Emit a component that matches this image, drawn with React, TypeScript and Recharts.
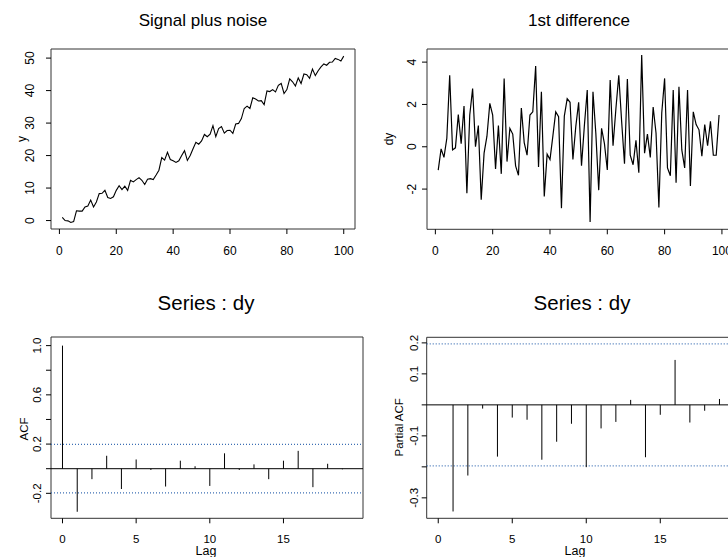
import React from "react";
import { LineChart, Line, XAxis, YAxis, ReferenceLine, ReferenceArea } from "recharts";

// signal plus noise, t = 1..100
const yValues = [
  1.0, 0.0, -0.1, -0.6, -0.3, 3.0, 2.9, 2.9, 4.2, 4.5,
  6.3, 4.2, 5.7, 8.3, 8.4, 9.3, 7.1, 6.8, 7.3, 9.3,
  10.7, 9.5, 10.6, 9.3, 12.4, 11.9, 12.6, 13.2, 12.4, 11.1,
  12.7, 12.9, 12.6, 14.0, 15.5, 19.4, 18.6, 21.0, 18.8, 18.4,
  17.9, 18.4, 20.0, 21.5, 18.5, 20.0, 22.1, 24.1, 23.5, 24.5,
  26.5, 25.8, 26.6, 29.2, 25.8, 28.3, 28.9, 26.9, 27.7, 27.8,
  26.8, 29.7, 29.9, 31.4, 34.5, 35.2, 34.5, 37.8, 37.4, 36.8,
  36.9, 35.7, 39.9, 39.7, 40.3, 39.6, 41.6, 42.2, 39.1, 40.3,
  43.6, 42.7, 41.4, 43.9, 42.2, 45.1, 44.9, 43.8, 46.6, 44.6,
  46.1, 47.3, 48.2, 47.8, 48.7, 48.8, 49.9, 49.6, 49.1, 50.6,
];

// 1st difference, t = 1..99
const dyValues = [
  -1.1, -0.1, -0.5, 0.4, 3.38, -0.15, -0.05, 1.52, 0.15, 1.92,
  -2.2, 1.5, 2.75, 0.0, 1.0, -2.5, -0.3, 0.5, 2.05, 1.5,
  -1.05, 1.0, -1.28, 3.22, -0.7, 0.87, 0.6, -0.9, -1.35, 1.83,
  0.2, -0.4, 1.5, 1.65, 3.82, -0.95, 2.6, -2.35, -0.35, -0.6,
  0.5, 1.65, 1.42, -2.9, 1.45, 2.27, 2.1, -0.6, 0.95, 2.1,
  -0.9, 1.0, 2.68, -3.55, 2.6, 0.63, -2.05, 0.87, 0.15, -1.1,
  3.15, 0.05, 1.8, 3.38, 1.2, -0.8, 3.2, -0.4, -0.85, 0.3,
  -1.23, 4.33, -0.3, 0.6, -0.5, 1.88, 0.65, -2.87, 1.6, 3.23,
  -1.0, -1.37, 2.68, -1.7, 2.83, -0.15, -1.0, 2.68, -1.85, 1.65,
  1.05, 0.8, -0.45, 1.05, 0.05, 1.2, -0.4, -0.4, 1.5,
];

const acfLags = [0, 1, 2, 3, 4, 5, 6, 7, 8, 9, 10, 11, 12, 13, 14, 15, 16, 17, 18, 19];
const acfValues = [
  1.0, -0.35, -0.085, 0.105, -0.165, 0.075, -0.01, -0.145, 0.065, 0.02,
  -0.14, 0.125, -0.01, 0.035, -0.085, 0.065, 0.145, -0.15, 0.04, -0.005,
];

const pacfLags = [1, 2, 3, 4, 5, 6, 7, 8, 9, 10, 11, 12, 13, 14, 15, 16, 17, 18, 19];
const pacfValues = [
  -0.344, -0.228, -0.012, -0.167, -0.041, -0.048, -0.177, -0.119, -0.061, -0.201,
  -0.076, -0.055, 0.016, -0.169, -0.032, 0.145, -0.057, -0.019, 0.019,
];

const confBound = 0.197;

const timeTicks = [0, 20, 40, 60, 80, 100];
const lagTicks = [0, 5, 10, 15];
const yTicks = [0, 10, 20, 30, 40, 50];
const dyTicks = [-2, 0, 2, 4];
const acfTicks = [-0.2, 0, 0.2, 0.4, 0.6, 0.8, 1.0];
const acfLabelled = [-0.2, 0.2, 0.6, 1.0];
const pacfTicks = [-0.3, -0.2, -0.1, 0, 0.1, 0.2];
const pacfLabelled = [-0.3, -0.1, 0.1, 0.2];

const FONT = '"Liberation Sans", Arial, Helvetica, sans-serif';
const CONF_COLOR = "#3d6fb4";

const ySeries = yValues.map((v, i) => ({ t: i + 1, y: v }));
const dySeries = dyValues.map((v, i) => ({ t: i + 1, dy: v }));

function xTick(labelY: number, size: number) {
  return (props: any) => (
    <text
      x={props.x}
      y={labelY}
      textAnchor="middle"
      dominantBaseline="central"
      fontSize={size}
      fontFamily={FONT}
      fill="#000"
    >
      {props.payload.value}
    </text>
  );
}

function yTick(labelX: number, size: number, fmt: (v: number) => string) {
  return (props: any) => (
    <text
      x={labelX}
      y={props.y}
      transform={`rotate(-90, ${labelX}, ${props.y})`}
      textAnchor="middle"
      dominantBaseline="central"
      fontSize={size}
      fontFamily={FONT}
      fill="#000"
    >
      {fmt(props.payload.value)}
    </text>
  );
}

const plain = (v: number) => String(v);
const oneDec = (labelled: number[]) => (v: number) =>
  labelled.some((l) => Math.abs(l - v) < 1e-9) ? v.toFixed(1) : "";

const box = "#333";

export default function App() {
  return (
    <div
      style={{
        position: "absolute",
        left: 0,
        top: 0,
        width: 728,
        height: 557,
        overflow: "hidden",
        background: "#fff",
      }}
    >
      {/* Signal plus noise */}
      <div style={{ position: "absolute", left: 0, top: 0 }}>
        <LineChart width={364} height={280} data={ySeries} margin={{ top: 49, right: 9, bottom: 21, left: 0 }}>
          <XAxis
            dataKey="t"
            type="number"
            domain={[-2.96, 103.96]}
            ticks={timeTicks}
            interval={0}
            allowDataOverflow
            axisLine={false}
            tickLine={{ stroke: "#000" }}
            tickSize={5}
            tickMargin={0}
            height={30}
            tick={xTick(250.5, 12)}
          />
          <YAxis
            type="number"
            domain={[-2.6, 52.8]}
            ticks={yTicks}
            interval={0}
            allowDataOverflow
            axisLine={false}
            tickLine={{ stroke: "#000" }}
            tickSize={5}
            tickMargin={0}
            width={51}
            tick={yTick(29.7, 12, plain)}
          />
          <ReferenceArea x1={-2.96} x2={103.96} y1={-2.6} y2={52.8} fill="none" stroke={box} ifOverflow="visible" />
          <Line dataKey="y" type="linear" stroke="#000" strokeWidth={1.1} dot={false} isAnimationActive={false} />
        </LineChart>
      </div>

      {/* 1st difference */}
      <div style={{ position: "absolute", left: 364, top: 0 }}>
        <LineChart width={370} height={280} data={dySeries} margin={{ top: 49, right: 3.7, bottom: 20.7, left: 0 }}>
          <XAxis
            dataKey="t"
            type="number"
            domain={[-2.92, 102.92]}
            ticks={timeTicks}
            interval={0}
            allowDataOverflow
            axisLine={false}
            tickLine={{ stroke: "#000" }}
            tickSize={5}
            tickMargin={0}
            height={30}
            tick={xTick(250.5, 12)}
          />
          <YAxis
            type="number"
            domain={[-3.9, 4.62]}
            ticks={dyTicks}
            interval={0}
            allowDataOverflow
            axisLine={false}
            tickLine={{ stroke: "#000" }}
            tickSize={5}
            tickMargin={0}
            width={63}
            tick={yTick(48, 12, plain)}
          />
          <ReferenceArea x1={-2.92} x2={102.92} y1={-3.9} y2={4.62} fill="none" stroke={box} ifOverflow="visible" />
          <Line dataKey="dy" type="linear" stroke="#000" strokeWidth={1.2} dot={false} isAnimationActive={false} />
        </LineChart>
      </div>

      {/* ACF */}
      <div style={{ position: "absolute", left: 0, top: 280 }}>
        <LineChart
          width={364}
          height={277}
          data={acfLags.map((l, i) => ({ lag: l, acf: acfValues[i] }))}
          margin={{ top: 57, right: 1, bottom: 8.7, left: 0 }}
        >
          <XAxis
            dataKey="lag"
            type="number"
            domain={[-0.78, 20.4]}
            ticks={lagTicks}
            interval={0}
            allowDataOverflow
            axisLine={false}
            tickLine={{ stroke: "#000" }}
            tickSize={5}
            tickMargin={0}
            height={30}
            tick={xTick(259.3, 11.5)}
          />
          <YAxis
            type="number"
            domain={[-0.403, 1.07]}
            ticks={acfTicks}
            interval={0}
            allowDataOverflow
            axisLine={false}
            tickLine={{ stroke: "#000" }}
            tickSize={5}
            tickMargin={0}
            width={51}
            tick={yTick(37.5, 11.5, oneDec(acfLabelled))}
          />
          <ReferenceArea x1={-0.78} x2={20.4} y1={-0.403} y2={1.07} fill="none" stroke={box} ifOverflow="visible" />
          <ReferenceLine y={0} stroke="#000" strokeWidth={1} />
          <ReferenceLine y={confBound} stroke={CONF_COLOR} strokeDasharray="1 2" strokeWidth={1.2} />
          <ReferenceLine y={-confBound} stroke={CONF_COLOR} strokeDasharray="1 2" strokeWidth={1.2} />
          {acfLags.map((l, i) => (
            <ReferenceLine
              key={l}
              segment={[
                { x: l, y: 0 },
                { x: l, y: acfValues[i] },
              ]}
              stroke="#000"
              strokeWidth={1}
            />
          ))}
          <Line dataKey="acf" stroke="none" dot={false} isAnimationActive={false} />
        </LineChart>
      </div>

      {/* PACF */}
      <div style={{ position: "absolute", left: 364, top: 280 }}>
        <LineChart
          width={380}
          height={277}
          data={pacfLags.map((l, i) => ({ lag: l, pacf: pacfValues[i] }))}
          margin={{ top: 57.3, right: 3.8, bottom: 8.7, left: 0 }}
        >
          <XAxis
            dataKey="lag"
            type="number"
            domain={[-0.78, 20.4]}
            ticks={lagTicks}
            interval={0}
            allowDataOverflow
            axisLine={false}
            tickLine={{ stroke: "#000" }}
            tickSize={5}
            tickMargin={0}
            height={30}
            tick={xTick(259.3, 11.5)}
          />
          <YAxis
            type="number"
            domain={[-0.366, 0.218]}
            ticks={pacfTicks}
            interval={0}
            allowDataOverflow
            axisLine={false}
            tickLine={{ stroke: "#000" }}
            tickSize={5}
            tickMargin={0}
            width={62.7}
            tick={yTick(49.7, 11.5, oneDec(pacfLabelled))}
          />
          <ReferenceArea x1={-0.78} x2={20.4} y1={-0.366} y2={0.218} fill="none" stroke={box} ifOverflow="visible" />
          <ReferenceLine y={0} stroke="#000" strokeWidth={1} />
          <ReferenceLine y={confBound} stroke={CONF_COLOR} strokeDasharray="1 2" strokeWidth={1.2} />
          <ReferenceLine y={-confBound} stroke={CONF_COLOR} strokeDasharray="1 2" strokeWidth={1.2} />
          {pacfLags.map((l, i) => (
            <ReferenceLine
              key={l}
              segment={[
                { x: l, y: 0 },
                { x: l, y: pacfValues[i] },
              ]}
              stroke="#000"
              strokeWidth={1}
            />
          ))}
          <Line dataKey="pacf" stroke="none" dot={false} isAnimationActive={false} />
        </LineChart>
      </div>

      {/* titles and axis labels */}
      <svg
        width={728}
        height={557}
        style={{ position: "absolute", left: 0, top: 0, pointerEvents: "none" }}
        fontFamily={FONT}
      >
        <text x={203} y={26} textAnchor="middle" fontSize={17}>Signal plus noise</text>
        <text x={579} y={26} textAnchor="middle" fontSize={17}>1st difference</text>
        <text x={206} y={309.5} textAnchor="middle" fontSize={20.5}>Series : dy</text>
        <text x={582} y={309.5} textAnchor="middle" fontSize={20.5}>Series : dy</text>

        <text x={21.7} y={139} transform="rotate(-90, 21.7, 139)" textAnchor="middle" dominantBaseline="central" fontSize={12}>y</text>
        <text x={389.3} y={139} transform="rotate(-90, 389.3, 139)" textAnchor="middle" dominantBaseline="central" fontSize={12}>dy</text>
        <text x={24} y={429} transform="rotate(-90, 24, 429)" textAnchor="middle" dominantBaseline="central" fontSize={11.5}>ACF</text>
        <text x={399} y={427.3} transform="rotate(-90, 399, 427.3)" textAnchor="middle" dominantBaseline="central" fontSize={11.5}>Partial ACF</text>

        <text x={206} y={551} textAnchor="middle" dominantBaseline="central" fontSize={12.5}>Lag</text>
        <text x={575} y={551} textAnchor="middle" dominantBaseline="central" fontSize={12.5}>Lag</text>
      </svg>
    </div>
  );
}
